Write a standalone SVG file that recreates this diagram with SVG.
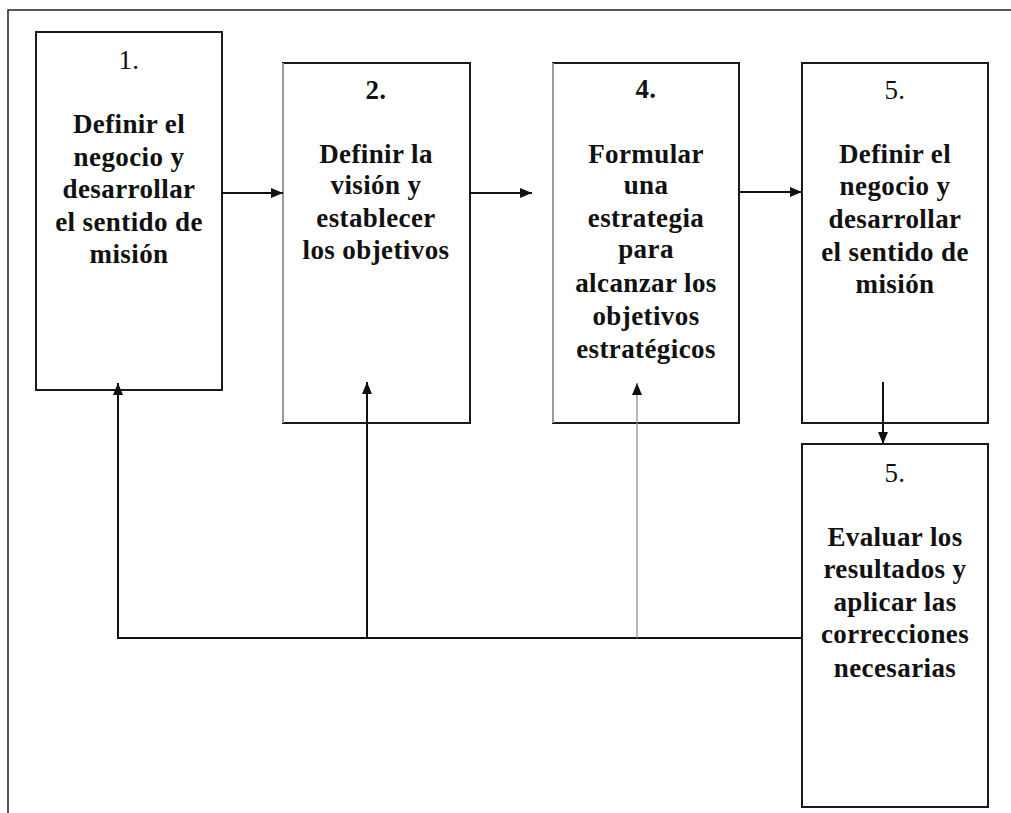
<svg xmlns="http://www.w3.org/2000/svg" width="1011" height="813" viewBox="0 0 1011 813">
<style>
.box{fill:#fff;stroke:#1a1a1a;stroke-width:2}
.t{font-family:"Liberation Serif","Times New Roman",serif;font-size:27px;font-weight:bold;fill:#111;text-anchor:middle;letter-spacing:0.4px}
.n{font-weight:normal}
.c{fill:none;stroke:#111;stroke-width:2}
.g{fill:none;stroke:#888;stroke-width:1.2}
</style>
<defs>
<marker id="ah" viewBox="0 0 12 10" refX="12" refY="5" markerWidth="12" markerHeight="10" markerUnits="userSpaceOnUse" orient="auto">
<path d="M0,0 L12,5 L0,10 Z" fill="#111"/>
</marker>
</defs>
<rect width="1011" height="813" fill="#fff"/>
<path d="M8,813 L8,10 L1011,10" fill="none" stroke="#222" stroke-width="1.5"/>
<g id="n1">
<rect class="box" x="36" y="32" width="186" height="358"/>
<text class="t" x="129" y="69"><tspan class="n">1.</tspan></text>
<text class="t" x="129" y="133">Definir el</text>
<text class="t" x="129" y="166">negocio y</text>
<text class="t" x="129" y="198">desarrollar</text>
<text class="t" x="129" y="231">el sentido de</text>
<text class="t" x="129" y="263">misión</text>
</g>
<g id="n2">
<rect class="box" x="283" y="63" width="187" height="360"/>
<line x1="283" y1="63" x2="283" y2="423" stroke="#999" stroke-width="2"/>
<text class="t" x="376" y="99">2.</text>
<text class="t" x="376" y="163">Definir la</text>
<text class="t" x="376" y="194">visión y</text>
<text class="t" x="376" y="227">establecer</text>
<text class="t" x="376" y="259">los objetivos</text>
</g>
<g id="n4">
<rect class="box" x="553" y="63" width="186" height="360"/>
<line x1="553" y1="63" x2="553" y2="423" stroke="#999" stroke-width="2"/>
<text class="t" x="646" y="98">4.</text>
<text class="t" x="646" y="163">Formular</text>
<text class="t" x="646" y="194">una</text>
<text class="t" x="646" y="227">estrategia</text>
<text class="t" x="646" y="258">para</text>
<text class="t" x="646" y="292">alcanzar los</text>
<text class="t" x="646" y="325">objetivos</text>
<text class="t" x="646" y="358">estratégicos</text>
</g>
<g id="n5">
<rect class="box" x="802" y="63" width="186" height="360"/>
<text class="t" x="895" y="99"><tspan class="n">5.</tspan></text>
<text class="t" x="895" y="163">Definir el</text>
<text class="t" x="895" y="195">negocio y</text>
<text class="t" x="895" y="228">desarrollar</text>
<text class="t" x="895" y="261">el sentido de</text>
<text class="t" x="895" y="293">misión</text>
</g>
<g id="n6">
<rect class="box" x="802" y="444" width="186" height="363"/>
<text class="t" x="895" y="482"><tspan class="n">5.</tspan></text>
<text class="t" x="895" y="546">Evaluar los</text>
<text class="t" x="895" y="578">resultados y</text>
<text class="t" x="895" y="611">aplicar las</text>
<text class="t" x="895" y="643">correcciones</text>
<text class="t" x="895" y="677">necesarias</text>
</g>
<g id="connectors">
<line class="c" x1="222" y1="193" x2="283" y2="193" marker-end="url(#ah)"/>
<line class="c" x1="470" y1="193" x2="532" y2="193" marker-end="url(#ah)"/>
<line class="c" x1="739" y1="192" x2="802" y2="192" marker-end="url(#ah)"/>
<line class="c" x1="883" y1="382" x2="883" y2="444" marker-end="url(#ah)"/>
<polyline class="c" points="802,638 118,638 118,383" marker-end="url(#ah)"/>
<line class="c" x1="367" y1="638" x2="367" y2="382" marker-end="url(#ah)"/>
<line class="g" x1="637" y1="638" x2="637" y2="383" marker-end="url(#ah)"/>
</g>
</svg>
